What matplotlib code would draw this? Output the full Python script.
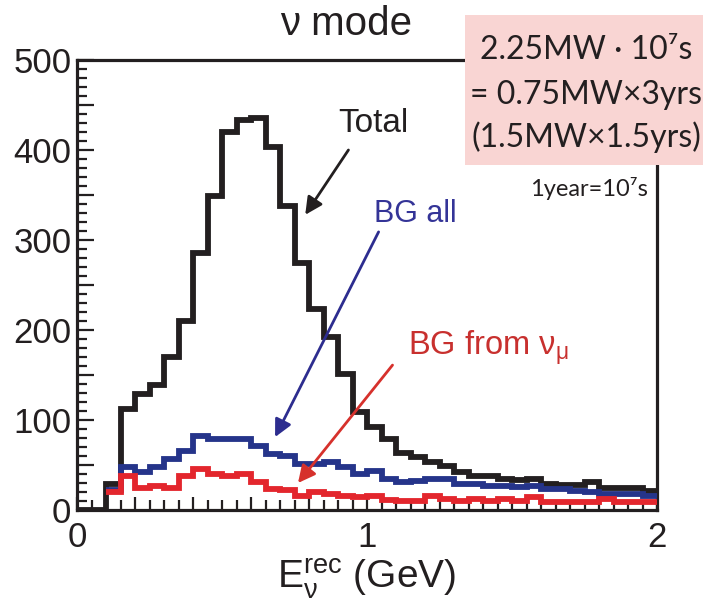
import numpy as np
import matplotlib
matplotlib.use("Agg")
import matplotlib.pyplot as plt
from matplotlib.patches import Rectangle
from matplotlib.ticker import MultipleLocator, FuncFormatter

plt.rcParams['font.family'] = ['Liberation Sans', 'DejaVu Sans']
plt.rcParams['mathtext.fontset'] = 'custom'
plt.rcParams['mathtext.rm'] = 'Liberation Sans'
plt.rcParams['mathtext.it'] = 'Liberation Sans:italic'

# Reconstructed neutrino energy binning (GeV)
bin_edges = np.round(np.arange(0.0, 2.0001, 0.05), 2)

# Expected events per bin
total = [0, 0, 29, 112, 129, 139, 170, 210, 286, 349,
         420, 433, 436, 403, 338, 275, 223, 192, 151, 109,
         92, 79, 63, 59, 53, 49, 42, 38, 38, 34,
         33, 34, 29, 28, 28, 31, 25, 25, 25, 21]
bg_all = [0, 0, 22, 48, 42, 48, 57, 66, 82, 79,
          79, 79, 71, 62, 60, 51, 51, 53, 48, 40,
          43, 35, 31, 32, 34, 35, 29, 29, 27, 27,
          26, 27, 23, 23, 21, 20, 18, 18, 18, 16]
bg_numu = [0, 0, 20, 38, 25, 27, 25, 38, 46, 40,
           38, 40, 31, 23, 22, 16, 20, 18, 16, 14,
           16, 11, 10, 10, 16, 12, 10, 12, 10, 12,
           10, 14, 9, 9, 9, 9, 12, 9, 9, 9]

y_tick_values = [0, 100, 200, 300, 400, 500]
x_tick_values = [0, 1, 2]

W, H = 708, 607
fig = plt.figure(figsize=(W / 100, H / 100), dpi=100)
ax = fig.add_axes([77 / W, 1 - 510 / H, (657 - 77) / W, (510 - 60) / H])

lw = 4.2
ax.stairs(total, bin_edges, baseline=None, color='#231f20', lw=lw, zorder=3)
# background histograms start at the first populated bin
first = next(i for i, v in enumerate(bg_all) if v > 0)
ax.stairs(bg_all[first:], bin_edges[first:], baseline=None, color='#25348a', lw=lw, zorder=4)
first = next(i for i, v in enumerate(bg_numu) if v > 0)
ax.stairs(bg_numu[first:], bin_edges[first:], baseline=None, color='#e3262d', lw=lw, zorder=5)

ax.set_xlim(0, 2)
ax.set_ylim(0, 500)

for side in ['left', 'bottom', 'right', 'top']:
    ax.spines[side].set_linewidth(2.3)
    ax.spines[side].set_color('#231f20')

ax.yaxis.set_major_locator(MultipleLocator(50))
ax.yaxis.set_minor_locator(MultipleLocator(10))
ax.xaxis.set_major_locator(MultipleLocator(0.2))
ax.xaxis.set_minor_locator(MultipleLocator(0.05))
ax.yaxis.set_major_formatter(FuncFormatter(
    lambda v, p: f"{int(round(v))}" if int(round(v)) in y_tick_values else ""))
ax.xaxis.set_major_formatter(FuncFormatter(
    lambda v, p: f"{int(round(v))}" if abs(v - round(v)) < 1e-6 and int(round(v)) in x_tick_values else ""))

ax.tick_params(axis='both', which='both', direction='in', colors='#231f20',
               top=False, right=False, width=1.6, labelsize=25)
ax.tick_params(axis='y', which='major', length=12, pad=4)
ax.tick_params(axis='y', which='minor', length=7)
ax.tick_params(axis='x', which='major', length=9.5, pad=8)
ax.tick_params(axis='x', which='minor', length=7)
for lab in ax.get_xticklabels() + ax.get_yticklabels():
    lab.set_color('#231f20')

ax.set_xlabel(r'$\mathregular{E_{\nu}^{rec}}$ (GeV)', fontsize=28, labelpad=2, color='#231f20')

fig.text(346 / W, 1 - 35 / H, 'ν mode', fontsize=29, ha='center', va='baseline', color='#231f20')

# Labels with arrows pointing at each histogram
arrow_kw = dict(arrowstyle='-|>', lw=2.0, mutation_scale=26, shrinkA=0, shrinkB=0)
ax.annotate('', xy=(0.787, 328), xytext=(0.936, 400),
            arrowprops=dict(color='#231f20', **arrow_kw), zorder=6)
ax.text(1.023, 430, 'Total', fontsize=24, ha='center', va='center', color='#231f20')

ax.annotate('', xy=(0.683, 81), xytext=(1.040, 309),
            arrowprops=dict(color='#2d2d8f', **arrow_kw), zorder=6)
ax.text(1.168, 329, 'BG all', fontsize=22, ha='center', va='center', color='#343497')

ax.annotate('', xy=(0.762, 30), xytext=(1.088, 161),
            arrowprops=dict(color='#d6312c', **arrow_kw), zorder=6)
ax.text(1.140, 180, r'BG from $\mathregular{\nu_{\mu}}$', fontsize=23.5, ha='left', va='center',
        color='#c8302e')

# Exposure box
box = Rectangle((465 / W, 1 - 165 / H), (703 - 465) / W, 150 / H,
                transform=fig.transFigure, facecolor='#f9d5d3', edgecolor='none', zorder=2)
fig.add_artist(box)
box_font = ['Lato', 'DejaVu Sans']
for txt, yy in [('2.25MW · 10⁷s', 50), ('= 0.75MW×3yrs', 95), ('(1.5MW×1.5yrs)', 137)]:
    t = fig.text(586 / W, 1 - yy / H, txt, fontsize=23, ha='center', va='center',
                 family=box_font, color='#231f20')
    t.set_zorder(3)
fig.text(648 / W, 1 - 189 / H, '1year=10⁷s', fontsize=17, ha='right', va='center',
         family=box_font, color='#231f20')

fig.savefig('out.png', dpi=100)
